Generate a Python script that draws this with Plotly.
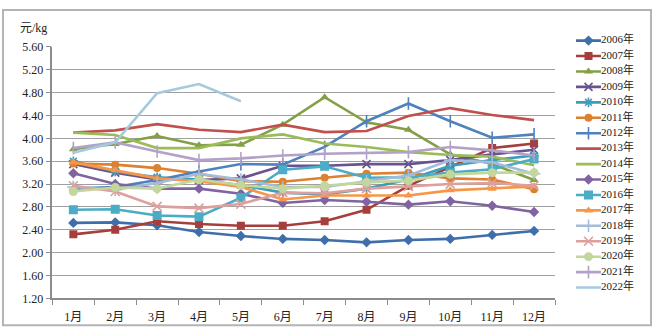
import plotly.graph_objects as go

# Monthly prices (元/kg) per year
months = ["1月", "2月", "3月", "4月", "5月", "6月", "7月", "8月", "9月", "10月", "11月", "12月"]

p2006 = [2.52, 2.53, 2.48, 2.36, 2.29, 2.24, 2.22, 2.18, 2.22, 2.24, 2.31, 2.38]
p2007 = [2.32, 2.40, 2.55, 2.50, 2.47, 2.47, 2.55, 2.75, 3.17, 3.50, 3.83, 3.91]
p2008 = [3.81, 3.90, 4.04, 3.88, 3.89, 4.24, 4.72, 4.28, 4.15, 3.72, 3.55, 3.27]
p2009 = [3.55, 3.40, 3.28, 3.27, 3.30, 3.52, 3.52, 3.55, 3.55, 3.62, 3.72, 3.80]
p2010 = [3.60, 3.42, 3.32, 3.28, 3.18, 3.05, 3.02, 3.12, 3.28, 3.52, 3.62, 3.70]
p2011 = [3.56, 3.54, 3.48, 3.38, 3.25, 3.24, 3.31, 3.38, 3.40, 3.30, 3.28, 3.11]
p2012 = [3.12, 3.15, 3.27, 3.42, 3.55, 3.54, 3.85, 4.30, 4.61, 4.30, 4.01, 4.07]
p2013 = [4.10, 4.14, 4.25, 4.15, 4.11, 4.24, 4.11, 4.13, 4.39, 4.53, 4.41, 4.32]
p2014 = [4.10, 4.06, 3.83, 3.83, 4.00, 4.07, 3.91, 3.85, 3.76, 3.71, 3.68, 3.53]
p2015 = [3.39, 3.20, 3.12, 3.12, 3.03, 2.87, 2.92, 2.89, 2.84, 2.90, 2.82, 2.71]
p2016 = [2.75, 2.76, 2.65, 2.63, 2.96, 3.45, 3.51, 3.31, 3.32, 3.40, 3.46, 3.64]
p2017 = [3.58, 3.44, 3.30, 3.25, 3.15, 2.93, 3.00, 3.00, 3.00, 3.09, 3.12, 3.16]
p2018 = [3.15, 3.10, 3.22, 3.38, 3.28, 3.15, 3.15, 3.25, 3.35, 3.62, 3.58, 3.38]
p2019 = [3.17, 3.07, 2.81, 2.78, 2.85, 3.05, 3.04, 3.12, 3.16, 3.20, 3.22, 3.17]
p2020 = [3.07, 3.14, 3.12, 3.28, 3.18, 3.12, 3.17, 3.23, 3.26, 3.37, 3.40, 3.40]
p2021 = [3.83, 3.93, 3.77, 3.62, 3.65, 3.70, 3.73, 3.74, 3.76, 3.85, 3.79, 3.70]
p2022 = [3.75, 3.93, 4.79, 4.95, 4.65]

years = ["2006年", "2007年", "2008年", "2009年", "2010年", "2011年", "2012年", "2013年",
         "2014年", "2015年", "2016年", "2017年", "2018年", "2019年", "2020年", "2021年", "2022年"]
values = [p2006, p2007, p2008, p2009, p2010, p2011, p2012, p2013,
          p2014, p2015, p2016, p2017, p2018, p2019, p2020, p2021, p2022]

# line colour, marker symbol, marker size per series
styles = [
    ("#3F6FAA", "diamond", 8),
    ("#A63F3C", "square", 8),
    ("#83A046", "triangle-up", 8),
    ("#6A5190", "x-thin", 8),
    ("#3D9DB8", "asterisk", 8),
    ("#DD802F", "circle", 8),
    ("#4F81BD", "line-ns", 9),
    ("#C0504D", None, 0),
    ("#9BBB59", None, 0),
    ("#8064A2", "diamond", 8),
    ("#4BACC6", "square", 9),
    ("#F79646", "triangle-up", 8),
    ("#A3BCDB", "cross-thin", 9),
    ("#DDA09E", "x-thin", 9),
    ("#C3D69B", "circle", 9),
    ("#B3A2C7", "line-ns", 9),
    ("#A6CADD", None, 0),
]

W, H = 655, 336
font_family = "Liberation Serif, Noto Sans CJK SC, serif"
txt_color = "#222222"

fig = go.Figure()


def marker_of(color, symbol, size):
    if symbol is None:
        return dict(size=0, opacity=0)
    open_like = symbol in ("x-thin", "asterisk", "line-ns", "cross-thin")
    return dict(symbol=symbol, size=size, color=color,
                line=dict(color=color, width=1.6 if open_like else 0))


for name, vals, (color, symbol, size) in zip(years, values, styles):
    fig.add_trace(go.Scatter(
        x=months[:len(vals)], y=vals, name=name,
        mode="lines+markers" if symbol else "lines",
        line=dict(color=color, width=2.6),
        marker=marker_of(color, symbol, size),
        showlegend=False, xaxis="x", yaxis="y",
    ))

# Legend drawn on its own small axes: one row per series
for i, (name, (color, symbol, size)) in enumerate(zip(years, styles)):
    fig.add_trace(go.Scatter(
        x=[0, 1], y=[i, i], mode="lines",
        line=dict(color=color, width=2.6),
        showlegend=False, hoverinfo="skip", xaxis="x2", yaxis="y2",
    ))
    if symbol:
        fig.add_trace(go.Scatter(
            x=[0.5], y=[i], mode="markers",
            marker=marker_of(color, symbol, size),
            showlegend=False, hoverinfo="skip", xaxis="x2", yaxis="y2",
        ))
    fig.add_trace(go.Scatter(
        x=[1], y=[i], mode="text", text=[name], textposition="middle right",
        textfont=dict(family=font_family, size=11, color=txt_color),
        cliponaxis=False, showlegend=False, hoverinfo="skip",
        xaxis="x2", yaxis="y2",
    ))

grid_color = "#A0A0A0"
axis_color = "#8C8C8C"

fig.update_layout(
    width=W, height=H,
    margin=dict(l=0, r=0, t=0, b=0),
    paper_bgcolor="white", plot_bgcolor="white",
    showlegend=False,
    xaxis=dict(
        domain=[52.4 / W, 555 / W], type="category",
        categoryorder="array", categoryarray=months,
        range=[-0.5, 11.5], tickson="boundaries",
        ticks="outside", ticklen=5, tickcolor=axis_color, tickwidth=1.3,
        ticklabelstandoff=7,
        showline=True, linecolor=axis_color, linewidth=1.5,
        showgrid=False, zeroline=False,
        tickfont=dict(family=font_family, size=12, color=txt_color),
        anchor="y",
    ),
    yaxis=dict(
        domain=[1 - 304 / H, 1 - 41.7 / H],
        range=[1.2, 5.6], dtick=0.4, tick0=1.2, tickformat=".2f",
        ticks="outside", ticklen=5, tickcolor=axis_color, tickwidth=1.3,
        showline=True, linecolor=axis_color, linewidth=1.5,
        showgrid=True, gridcolor=grid_color, gridwidth=1.4,
        zeroline=False,
        tickfont=dict(family=font_family, size=12, color=txt_color),
        anchor="x",
    ),
    xaxis2=dict(
        domain=[576 / W, 601 / W], range=[0, 1],
        visible=False, fixedrange=True, anchor="y2",
    ),
    yaxis2=dict(
        domain=[1 - 300.8 / H, 1 - 27 / H], range=[16.5, -0.5],
        visible=False, fixedrange=True, anchor="x2",
    ),
    annotations=[dict(
        text="元/kg", x=18 / W, y=1 - 22 / H, xref="paper", yref="paper",
        xanchor="left", yanchor="middle", showarrow=False,
        font=dict(family=font_family, size=12, color=txt_color),
    )],
    shapes=[dict(
        type="rect", xref="paper", yref="paper",
        x0=3 / W, x1=651 / W, y0=1 - 332 / H, y1=1 - 3 / H,
        line=dict(color="#B4B4B4", width=2), fillcolor="rgba(0,0,0,0)",
        layer="below",
    )],
)

fig.write_html("out.html")
